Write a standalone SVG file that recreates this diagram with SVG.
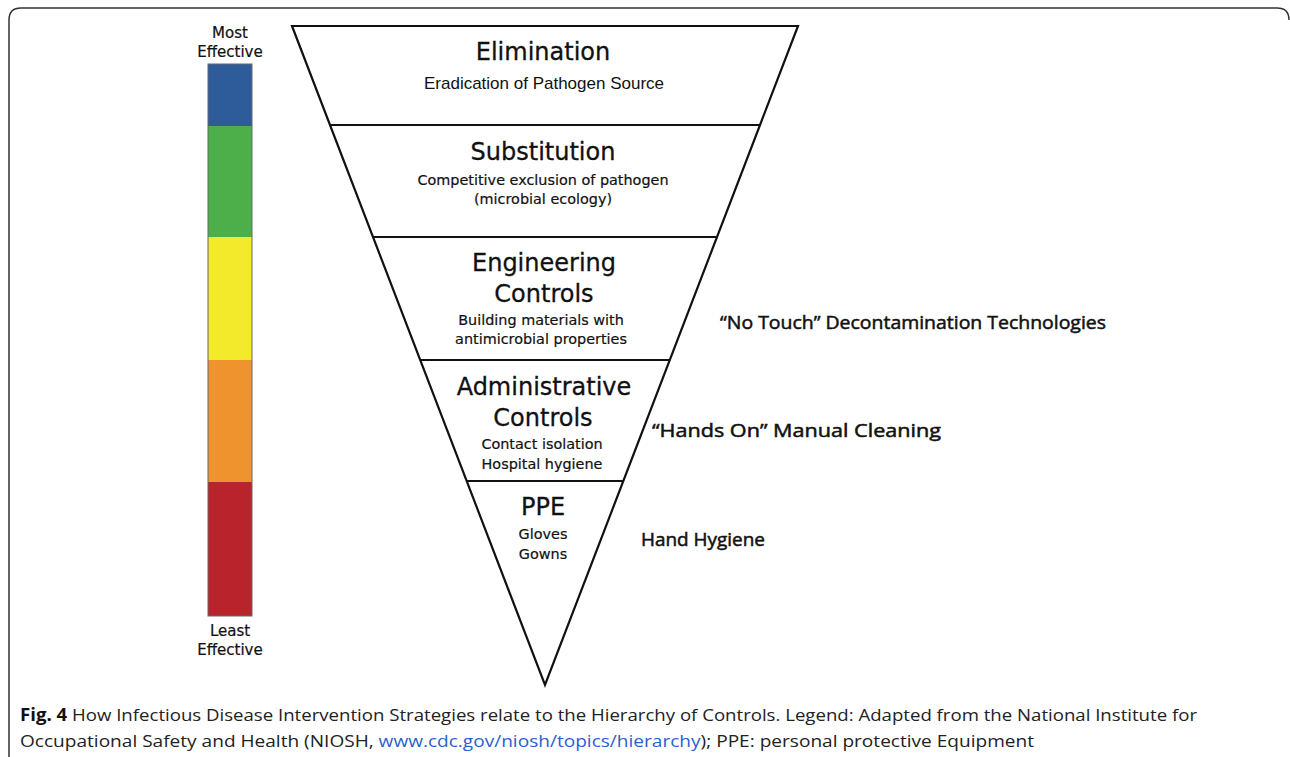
<svg xmlns="http://www.w3.org/2000/svg" width="1290" height="757" viewBox="0 0 1290 757">
<style>
.tri{fill:none;stroke:#111;stroke-width:2.2;stroke-linejoin:miter}
.div{stroke:#111;stroke-width:2}
.h{font-family:"DejaVu Sans",sans-serif;font-size:24px;fill:#111;text-anchor:middle;stroke:#111;stroke-width:0.3}
.s{font-family:"DejaVu Sans",sans-serif;font-size:14.4px;fill:#111;text-anchor:middle;stroke:#111;stroke-width:0.2}
.a{font-family:"Liberation Sans",Arial,sans-serif;font-size:17px;fill:#111;text-anchor:middle}
.r{font-family:"Open Sans",sans-serif;font-size:18px;fill:#111;stroke:#111;stroke-width:0.5}
.bar{font-family:"DejaVu Sans",sans-serif;font-size:15px;fill:#111;text-anchor:middle;stroke:#111;stroke-width:0.2}
.cap{font-family:"Open Sans",sans-serif;font-size:17px;fill:#222}
</style>
<path d="M 9 757 V 20 Q 9 8 21 8 H 1277 Q 1289 8 1289 20" fill="none" stroke="#333" stroke-width="1.5"/>
<g id="scale">
<rect x="208" y="64" width="44" height="62" fill="#2e5c9b"/>
<rect x="208" y="126" width="44" height="111" fill="#4caf4a"/>
<rect x="208" y="237" width="44" height="123" fill="#f3ea2b"/>
<rect x="208" y="360" width="44" height="122" fill="#ef932e"/>
<rect x="208" y="482" width="44" height="134" fill="#b9232b"/>
<rect x="208" y="64" width="44" height="552" fill="none" stroke="#666" stroke-width="1"/>
<text class="bar" x="230" y="38">Most</text>
<text class="bar" x="230" y="57">Effective</text>
<text class="bar" x="230" y="636">Least</text>
<text class="bar" x="230" y="655">Effective</text>
</g>
<g id="triangle">
<polygon class="tri" points="292,26 798,26 545,685"/>
</g>
<g id="connectors">
<line class="div" x1="330" y1="125" x2="760" y2="125"/>
<line class="div" x1="372" y1="237" x2="717" y2="237"/>
<line class="div" x1="420" y1="360" x2="670" y2="360"/>
<line class="div" x1="466" y1="481" x2="623" y2="481"/>
</g>
<g id="elimination">
<text class="h" x="543" y="60">Elimination</text>
<text class="a" x="544" y="89">Eradication of Pathogen Source</text>
</g>
<g id="substitution">
<text class="h" x="543" y="160">Substitution</text>
<text class="s" x="543" y="185">Competitive exclusion of pathogen</text>
<text class="s" x="543" y="204">(microbial ecology)</text>
</g>
<g id="engineering">
<text class="h" x="544" y="271">Engineering</text>
<text class="h" x="544" y="302">Controls</text>
<text class="s" x="541" y="325">Building materials with</text>
<text class="s" x="541" y="344">antimicrobial properties</text>
</g>
<g id="administrative">
<text class="h" x="544" y="395">Administrative</text>
<text class="h" x="543" y="426">Controls</text>
<text class="s" x="542" y="449">Contact isolation</text>
<text class="s" x="542" y="469">Hospital hygiene</text>
</g>
<g id="ppe">
<text class="h" x="543" y="515">PPE</text>
<text class="s" x="543" y="539">Gloves</text>
<text class="s" x="543" y="559">Gowns</text>
</g>
<g id="labels">
<text class="r" x="720" y="329" textLength="386" lengthAdjust="spacingAndGlyphs">“No Touch” Decontamination Technologies</text>
<text class="r" x="652" y="437" textLength="289" lengthAdjust="spacingAndGlyphs">“Hands On” Manual Cleaning</text>
<text class="r" x="641" y="546" textLength="124" lengthAdjust="spacingAndGlyphs">Hand Hygiene</text>
</g>
<g id="caption">
<text class="cap" x="20" y="721" textLength="1177" lengthAdjust="spacingAndGlyphs"><tspan font-weight="700" fill="#111">Fig. 4</tspan> How Infectious Disease Intervention Strategies relate to the Hierarchy of Controls. Legend: Adapted from the National Institute for</text>
<text class="cap" x="20" y="747" textLength="1014" lengthAdjust="spacingAndGlyphs">Occupational Safety and Health (NIOSH, <tspan fill="#2a5fd0">www.cdc.gov/niosh/topics/hierarchy</tspan>); PPE: personal protective Equipment</text>
</g>
</svg>
